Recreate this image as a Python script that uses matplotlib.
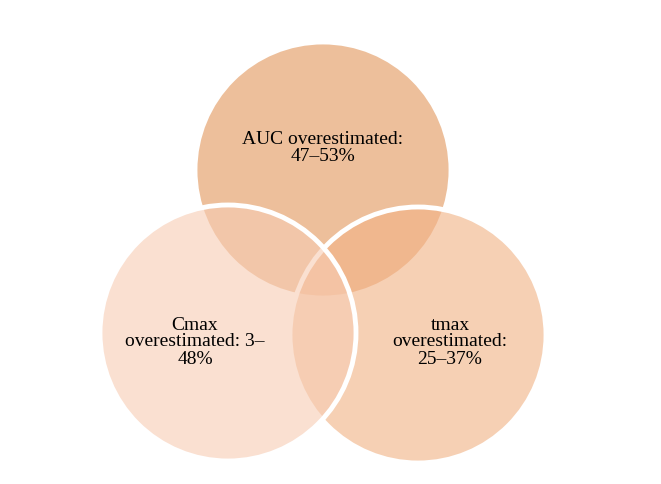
import matplotlib
matplotlib.use("Agg")
import matplotlib.pyplot as plt
from matplotlib.patches import Circle

# set labels and their circle layout (pixel space of the original)
labels = ["AUC overestimated:\n47\u201353%",
          "tmax\noverestimated:\n25\u201337%",
          "Cmax\noverestimated: 3\u2013\n48%"]
centers = [(323, 170), (418, 335), (228, 333)]
label_pos = [(323, 148), (450, 342), (195, 342)]
radius = 128
colors = [(0.89, 0.60, 0.37), (0.95, 0.70, 0.53), (0.97, 0.80, 0.70)]
alphas = [0.62, 0.62, 0.6]

fig = plt.figure(figsize=(6.61, 4.84), dpi=100)
ax = fig.add_axes([0, 0, 1, 1])
ax.set_xlim(0, 661)
ax.set_ylim(484, 0)
ax.set_aspect("equal")
ax.axis("off")

for c, col, a in zip(centers, colors, alphas):
    ax.add_patch(Circle(c, radius, facecolor=col + (a,), edgecolor="white", linewidth=3.5))

for lab, p in zip(labels, label_pos):
    ax.text(p[0], p[1], lab, ha="center", va="center", fontsize=14,
            family="Liberation Serif", linespacing=1.0)

fig.savefig("out.png", dpi=100)
